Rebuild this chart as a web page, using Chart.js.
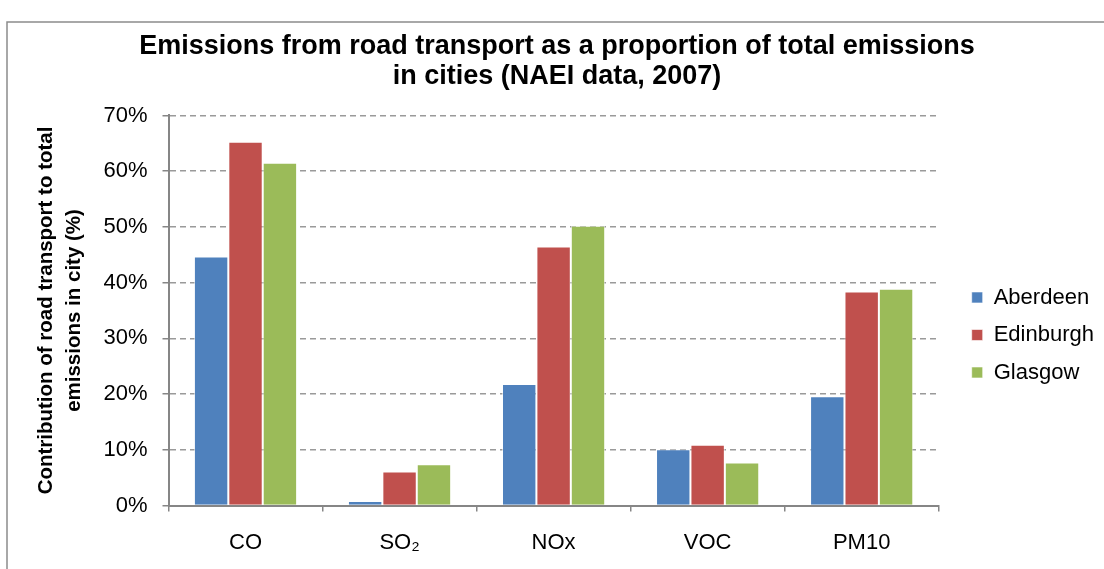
<!DOCTYPE html>
<html>
<head>
<meta charset="utf-8">
<script src="https://cdn.jsdelivr.net/npm/chart.js@4/dist/chart.umd.min.js"></script>
<style>
  html, body { margin: 0; padding: 0; background: #fff; }
  #wrap { position: relative; width: 1104px; height: 569px; }
  canvas { display: block; }
</style>
</head>
<body>
<div id="wrap"><canvas id="c" width="1104" height="569"></canvas></div>
<script>
const categories = ['CO', 'SO\u2082', 'NOx', 'VOC', 'PM10'];
const aberdeen  = [44.7, 0.8, 21.8, 10.1, 19.6];
const edinburgh = [65.3, 6.1, 46.5, 10.9, 38.4];
const glasgow   = [61.5, 7.4, 50.2, 7.7, 38.9];
const seriesNames = ['Aberdeen', 'Edinburgh', 'Glasgow'];
const yTicks = [0, 10, 20, 30, 40, 50, 60, 70];

const FONT = "'Liberation Sans', Arial, sans-serif";
const colors = ['#4F81BD', '#C0504D', '#9BBB59'];

const framePlugin = {
  id: 'frame',
  beforeDraw(chart) {
    const ctx = chart.ctx;
    ctx.save();
    ctx.fillStyle = '#fff';
    ctx.fillRect(0, 0, chart.width, chart.height);
    ctx.strokeStyle = '#8c8c8c';
    ctx.lineWidth = 1.5;
    ctx.beginPath();
    ctx.moveTo(7, chart.height);
    ctx.lineTo(7, 22);
    ctx.lineTo(chart.width, 22);
    ctx.stroke();
    ctx.restore();
  }
};

new Chart(document.getElementById('c'), {
  type: 'bar',
  data: {
    labels: categories,
    datasets: [aberdeen, edinburgh, glasgow].map((d, i) => ({
      label: seriesNames[i],
      data: d,
      yAxisID: 'y',
      backgroundColor: colors[i],
      borderColor: 'rgba(255,255,255,0.6)',
      borderWidth: 1,
      barPercentage: 1,
      categoryPercentage: 0.67
    }))
  },
  options: {
    responsive: false,
    animation: false,
    devicePixelRatio: 1,
    layout: { padding: { left: 10, top: 0, right: 0, bottom: 0 } },
    plugins: {
      title: {
        display: true,
        text: ['Emissions from road transport as a proportion of total emissions', 'in cities (NAEI data, 2007)'],
        color: '#000',
        font: { family: FONT, size: 27, weight: 'bold', lineHeight: 1.11 },
        padding: { top: 32, bottom: 23.5 }
      },
      legend: {
        position: 'right',
        fullSize: false,
        title: { display: true, text: ' ', font: { size: 10, lineHeight: 1 }, padding: { top: 39, bottom: 0 } },
        labels: {
          boxWidth: 11,
          boxHeight: 11,
          padding: 15.5,
          color: '#000',
          font: { family: FONT, size: 22 }
        }
      },
      tooltip: { enabled: false }
    },
    scales: {
      x: {
        grid: {
          display: true,
          offset: true,
          drawOnChartArea: false,
          drawTicks: true,
          tickLength: 6,
          color: '#868686',
          lineWidth: 1.5
        },
        border: { display: true, color: '#868686', width: 2 },
        ticks: {
          color: '#000',
          font: { family: FONT, size: 22 },
          padding: 18,
          maxRotation: 0
        },
        afterFit(s) { s.height = 63.5; }
      },
      y: {
        min: 0,
        max: 70,
        afterBuildTicks(s) { s.ticks = yTicks.map(v => ({ value: v })); },
        grid: {
          color: (c) => (c.tick && c.tick.value === 0) ? 'rgba(0,0,0,0)' : '#9a9a9a',
          lineWidth: 1.5,
          tickBorderDash: [],
          tickColor: '#868686',
          tickLength: 6,
          drawTicks: true
        },
        border: { display: true, color: '#868686', width: 2, dash: [6, 4] },
        ticks: {
          color: '#000',
          font: { family: FONT, size: 22 },
          padding: 15,
          callback: (v) => v + '%'
        },
        title: {
          display: true,
          text: ['Contribution of road transport to total', 'emissions in city (%)'],
          color: '#000',
          font: { family: FONT, size: 20.5, weight: 'bold', lineHeight: 1.38 },
          padding: { top: 22, bottom: 0 }
        },
        afterFit(s) { s.width = 158.5; }
      },
      yR: {
        axis: 'y',
        type: 'linear',
        position: 'right',
        display: true,
        grid: { display: false, drawTicks: false },
        border: { display: false },
        ticks: { display: false },
        afterFit(s) { s.width = 17.5; }
      }
    }
  },
  plugins: [framePlugin]
});
</script>
</body>
</html>
